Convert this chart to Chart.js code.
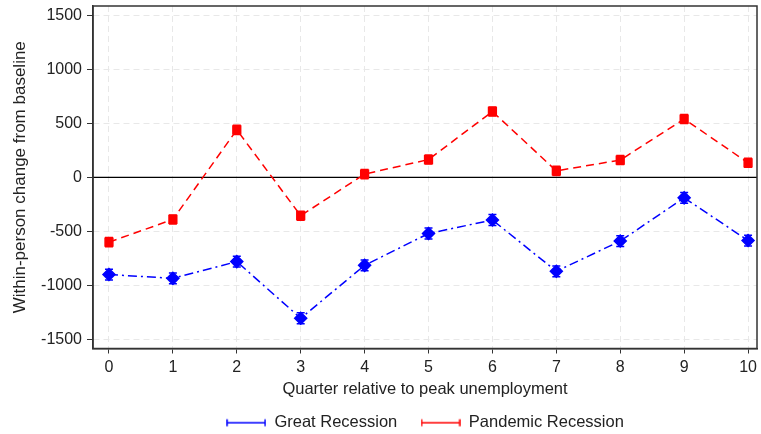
<!DOCTYPE html>
<html>
<head>
<meta charset="utf-8">
<script src="https://cdn.jsdelivr.net/npm/chart.js@4.4.1/dist/chart.umd.min.js"></script>
<style>
  html, body { margin: 0; padding: 0; background: #fff; }
  #wrap { width: 761px; height: 434px; }
</style>
</head>
<body>
<div id="wrap"><canvas id="chart"></canvas></div>
<script>
// data
const quarters = [0, 1, 2, 3, 4, 5, 6, 7, 8, 9, 10];
const greatVals = [-900, -935, -780, -1305, -815, -520, -395, -870, -590, -190, -585];
const greatErr = [50, 50, 50, 50, 50, 50, 50, 50, 50, 50, 50];
const pandemicVals = [-600, -390, 440, -355, 30, 165, 610, 60, 160, 540, 135];
const pandemicErr = [42, 42, 42, 42, 42, 42, 42, 42, 42, 42, 42];
const yTicks = [-1500, -1000, -500, 0, 500, 1000, 1500];

const FONT = "'Liberation Sans', Arial, sans-serif";
const NO_PAD = () => ({ left: 0, top: 0, right: 0, bottom: 0 });

function legendIcon(color) {
    const c = document.createElement('canvas');
    c.width = 40; c.height = 10;
    const g = c.getContext('2d');
    g.strokeStyle = color;
    g.lineWidth = 1.5;
    g.beginPath();
    g.moveTo(1, 5); g.lineTo(39, 5);
    g.moveTo(1, 1.5); g.lineTo(1, 8.5);
    g.moveTo(39, 1.5); g.lineTo(39, 8.5);
    g.stroke();
    return c;
}

const errorBars = {
    id: 'errorBars',
    afterDatasetsDraw(chart) {
        const { ctx, scales: { x, y } } = chart;
        const sets = [[greatVals, greatErr, '#0000ff'], [pandemicVals, pandemicErr, '#ff0000']];
        ctx.save();
        ctx.lineWidth = 1.5;
        sets.forEach(([vals, errs, col]) => {
            ctx.strokeStyle = col;
            vals.forEach((v, i) => {
                const px = x.getPixelForValue(quarters[i]);
                const top = y.getPixelForValue(v + errs[i]);
                const bot = y.getPixelForValue(v - errs[i]);
                ctx.beginPath();
                ctx.moveTo(px, top); ctx.lineTo(px, bot);
                ctx.moveTo(px - 4, top); ctx.lineTo(px + 4, top);
                ctx.moveTo(px - 4, bot); ctx.lineTo(px + 4, bot);
                ctx.stroke();
            });
        });
        ctx.restore();
    }
};

const frame = {
    id: 'frame',
    beforeDatasetsDraw(chart) {
        const { ctx, chartArea: a, scales: { y } } = chart;
        ctx.save();
        const zy = y.getPixelForValue(0);
        ctx.strokeStyle = '#000';
        ctx.lineWidth = 1.2;
        ctx.beginPath();
        ctx.moveTo(a.left, zy); ctx.lineTo(a.right, zy);
        ctx.stroke();
        ctx.strokeStyle = '#333';
        ctx.lineWidth = 1.5;
        ctx.strokeRect(a.left, a.top, a.right - a.left, a.bottom - a.top);
        ctx.restore();
    }
};

new Chart(document.getElementById('chart'), {
    type: 'line',
    data: {
        datasets: [
            {
                label: 'Great Recession',
                data: quarters.map((q, i) => ({ x: q, y: greatVals[i] })),
                borderColor: '#0000ff',
                backgroundColor: '#0000ff',
                borderWidth: 1.5,
                borderDash: [9, 4, 2, 4],
                pointStyle: 'rectRot',
                pointRadius: 6,
                pointHoverRadius: 6,
                fill: false
            },
            {
                label: 'Pandemic Recession',
                data: quarters.map((q, i) => ({ x: q, y: pandemicVals[i] })),
                borderColor: '#ff0000',
                backgroundColor: '#ff0000',
                borderWidth: 1.5,
                borderDash: [8, 5],
                pointStyle: 'rect',
                pointRadius: 5.5,
                pointHoverRadius: 5.5,
                fill: false
            }
        ]
    },
    options: {
        responsive: true,
        maintainAspectRatio: false,
        animation: false,
        layout: { autoPadding: false, padding: { top: 6, right: 4, left: 0, bottom: -7 } },
        plugins: {
            tooltip: { enabled: false },
            legend: {
                position: 'bottom',
                fullSize: false,
                labels: {
                    usePointStyle: true,
                    pointStyleWidth: 40,
                    color: '#222',
                    font: { family: FONT, size: 16.5 },
                    padding: 5,
                    generateLabels(chart) {
                        return chart.data.datasets.map((ds, i) => ({
                            text: ds.label + (i === 0 ? '    ' : ''),
                            pointStyle: legendIcon(ds.borderColor),
                            fontColor: '#222',
                            lineWidth: 0,
                            hidden: false,
                            datasetIndex: i
                        }));
                    }
                }
            }
        },
        scales: {
            x: {
                type: 'linear',
                min: -0.25,
                max: 10.14,
                afterBuildTicks(s) { s.ticks = quarters.map(v => ({ value: v })); },
                afterFit(s) {
                    s.height = 61;
                    s.paddingLeft = 0; s.paddingRight = 0;
                    s.getPadding = NO_PAD;
                },
                ticks: { color: '#222', font: { family: FONT, size: 16 }, padding: 4 },
                grid: { color: '#e8e8e8', lineWidth: 1, tickColor: '#333', tickLength: 5 },
                border: { dash: [6, 4], color: '#333', width: 1.5 },
                title: {
                    display: true,
                    text: 'Quarter relative to peak unemployment',
                    color: '#222',
                    font: { family: FONT, size: 16.5 },
                    padding: { top: 4, bottom: 10 }
                }
            },
            y: {
                min: -1585,
                max: 1587,
                afterBuildTicks(s) { s.ticks = yTicks.map(v => ({ value: v })); },
                afterFit(s) {
                    s.width = 93;
                    s.paddingTop = 0; s.paddingBottom = 0;
                    s.getPadding = NO_PAD;
                },
                ticks: {
                    color: '#222',
                    font: { family: FONT, size: 16 },
                    padding: 5,
                    callback: v => String(v)
                },
                grid: { color: '#e8e8e8', lineWidth: 1, tickColor: '#333', tickLength: 6 },
                border: { dash: [6, 4], color: '#333', width: 1.5 },
                title: {
                    display: true,
                    text: 'Within-person change from baseline',
                    color: '#222',
                    font: { family: FONT, size: 17 },
                    padding: { top: 10, bottom: 4 }
                }
            }
        }
    },
    plugins: [frame, errorBars]
});
</script>
</body>
</html>
